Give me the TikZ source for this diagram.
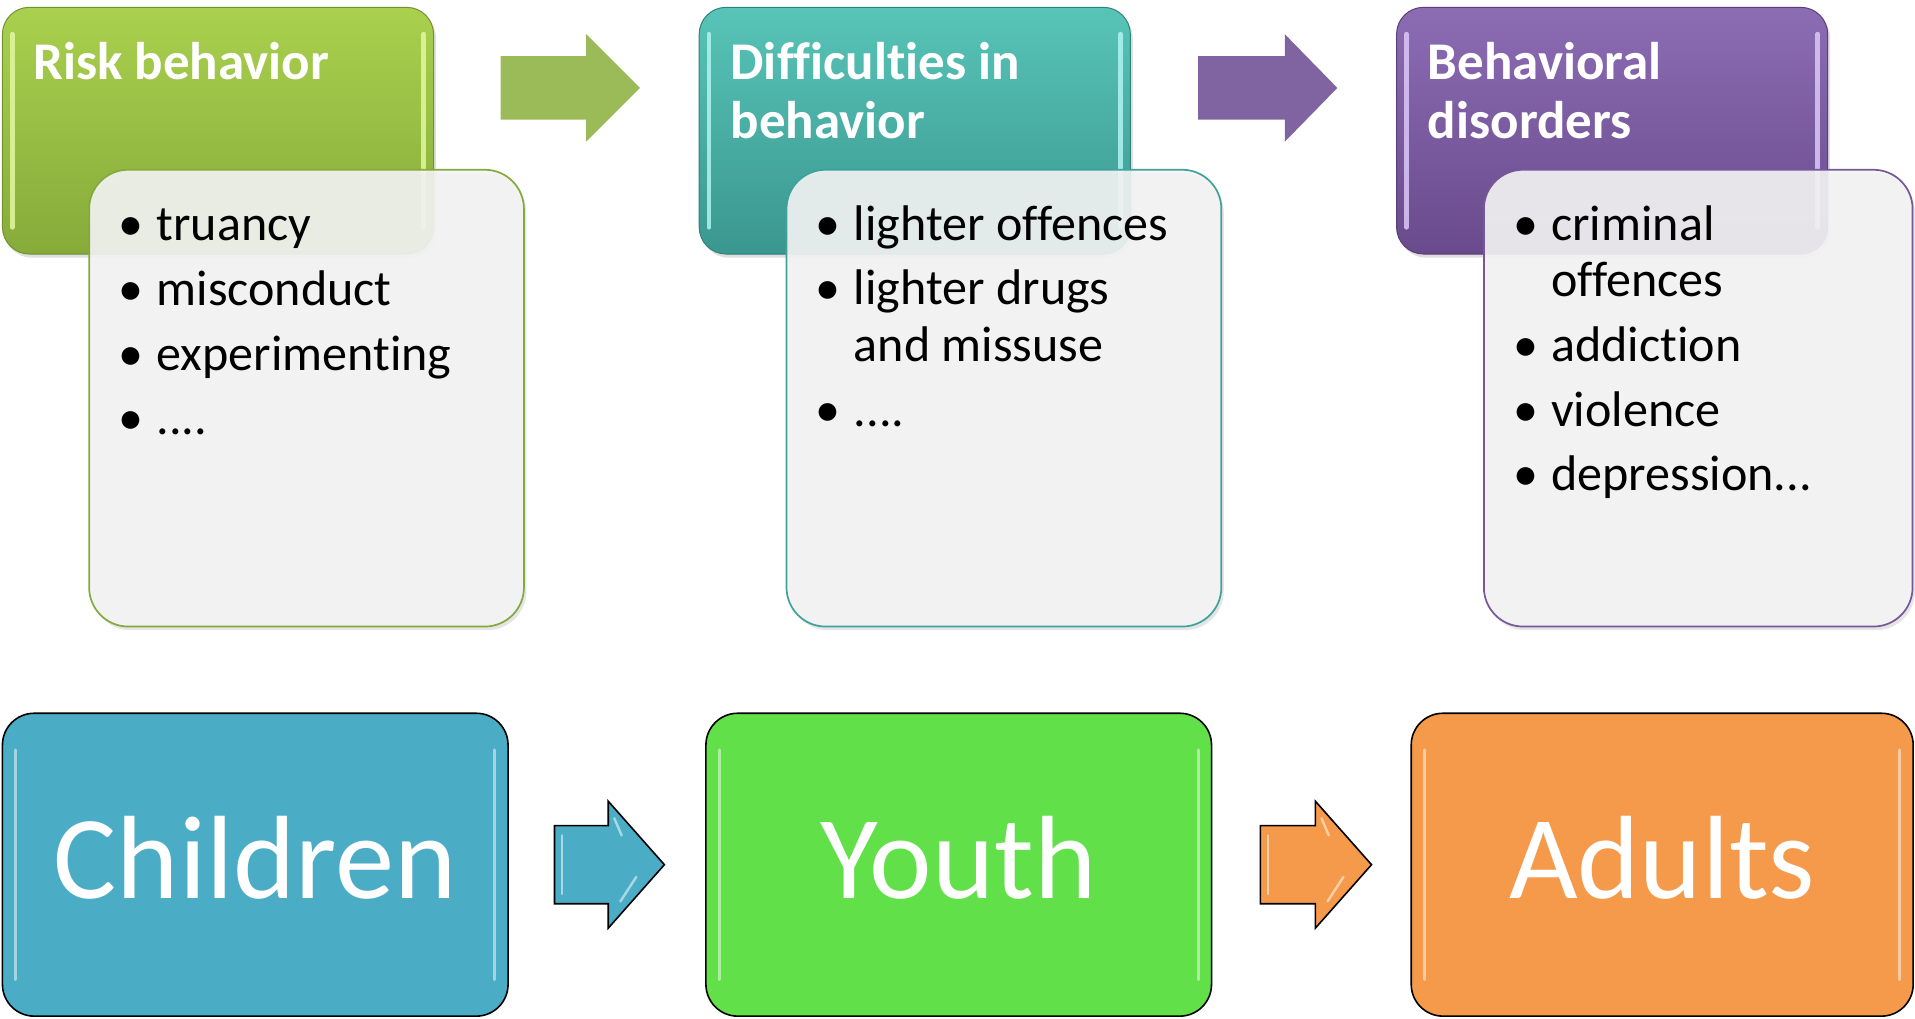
\documentclass[tikz,border=0pt]{standalone}
\usepackage{fontspec}
\setmainfont{Carlito}[Ligatures=NoCommon]
\usetikzlibrary{shadows,calc}
\definecolor{gTop}{HTML}{AAD04E}
\definecolor{gBot}{HTML}{86AB3A}
\definecolor{tTop}{HTML}{58C4B8}
\definecolor{tBot}{HTML}{3A9790}
\definecolor{pTop}{HTML}{8C6DB4}
\definecolor{pBot}{HTML}{694A8C}
\definecolor{gHi}{HTML}{E2F8A0}
\definecolor{tHi}{HTML}{B0F4F0}
\definecolor{pHi}{HTML}{DCC8F8}
\definecolor{arrG}{HTML}{9BBB59}
\definecolor{arrP}{HTML}{8064A2}
\definecolor{boxgray}{HTML}{F4F4F4}
\definecolor{bordG}{HTML}{82AA3C}
\definecolor{bordT}{HTML}{40A29A}
\definecolor{bordP}{HTML}{745898}
\definecolor{cBlue}{HTML}{4BACC6}
\definecolor{cGreen}{HTML}{62E04A}
\definecolor{cOrange}{HTML}{F59A4A}
\newcommand\bul{\llap{\makebox[42pt][c]{•}}}
\begin{document}
\begin{tikzpicture}[x=1pt,y=-1pt,
 hdr/.style={rounded corners=22pt, inner sep=0pt, outer sep=0pt, minimum width=353pt, minimum height=202pt,
   line width=0.8pt,
   drop shadow={opacity=0.25,shadow xshift=2pt,shadow yshift=-3pt}},
 listbox/.style={rounded corners=32pt, inner sep=0pt, outer sep=0pt, minimum width=356pt, minimum height=374pt,
   fill=boxgray, fill opacity=0.9, line width=1.4pt,
   drop shadow={opacity=0.2,shadow xshift=2pt,shadow yshift=-3pt}},
 hdrtext/.style={anchor=base west, inner sep=0pt, text=white, font=\fontsize{43.4}{48}\selectfont\bfseries},
 listitem/.style={anchor=base west, inner sep=0pt, text=black, font=\fontsize{41}{47}\selectfont},
 bigbox/.style={rounded corners=26pt, draw=black, line width=1.3pt, inner sep=0pt, outer sep=0pt,
   minimum width=414pt, minimum height=248pt},
 bigtext/.style={anchor=base, inner sep=0pt, text=white, font=\fontsize{97}{110}\selectfont},
 hl/.style={line width=2.5pt, line cap=round, opacity=0.75},
 hhl/.style={line width=4pt, line cap=round, opacity=0.85},
 barrow/.style={draw=black, line width=1.3pt, line join=miter}
]
\useasboundingbox (0,0) rectangle (1568,833.6);
\fill[white] (0,0) rectangle (1568,833.6);

% ---------- top row ----------
\node[hdr, top color=gTop, bottom color=gBot, draw=gBot!85!black] (gh) at (178.5,107) {};
\node[hdr, top color=tTop, bottom color=tBot, draw=tBot!85!black] (th) at (749,107) {};
\node[hdr, top color=pTop, bottom color=pBot, draw=pBot!85!black] (ph) at (1320,107) {};
\foreach \n/\c in {gh/gHi, th/tHi, ph/pHi}{
  \draw[hhl, \c] ($(\n.north west)+(8,22)$) -- ($(\n.south west)+(8,-22)$);
  \draw[hhl, \c] ($(\n.north east)+(-8,22)$) -- ($(\n.south east)+(-8,-22)$);
}

\node[hdrtext] (ght) at (27,65) {Risk behavior};
\node[hdrtext] (tht1) at (598,65) {Difficulties in};
\node[hdrtext] (tht2) at (598,113.5) {behavior};
\node[hdrtext] (pht1) at (1169,65) {Behavioral};
\node[hdrtext] (pht2) at (1169,113.5) {disorders};

\node[listbox, draw=bordG] (w1) at (251,326) {};
\node[listbox, draw=bordT] (w2) at (822,326) {};
\node[listbox, draw=bordP, minimum width=351pt] (w3) at (1390.5,326) {};

% arrows between the top boxes
\fill[arrG] (410,46) -- (480,46) -- (480,28) -- (524,72) -- (480,116) -- (480,98) -- (410,98) -- cycle;
\fill[arrP] (981,46) -- (1052,46) -- (1052,28) -- (1095,72) -- (1052,116) -- (1052,98) -- (981,98) -- cycle;

% list texts
\node[listitem] (a1) at (128,197) {\bul truancy};
\node[listitem] (a2) at (128,250) {\bul misconduct};
\node[listitem] (a3) at (128,303) {\bul experimenting};
\node[listitem] (a4) at (128,356) {\bul ....};

\node[listitem] (b1) at (699,197) {\bul lighter offences};
\node[listitem] (b2) at (699,249) {\bul lighter drugs};
\node[listitem] (b2b) at (699,296) {and missuse};
\node[listitem] (b3) at (699,349) {\bul ....};

\node[listitem] (c1) at (1270,197) {\bul criminal};
\node[listitem] (c1b) at (1270,243) {offences};
\node[listitem] (c2) at (1270,296) {\bul addiction};
\node[listitem] (c3) at (1270,349) {\bul violence};
\node[listitem] (c4) at (1270,402) {\bul depression...};

% ---------- bottom row ----------
\node[bigbox, fill=cBlue] (kid) at (209,708) {};
\node[bigbox, fill=cGreen] (you) at (785,708) {};
\node[bigbox, fill=cOrange, minimum width=411pt] (adu) at (1361,708) {};
\foreach \n/\c in {kid/cBlue, you/cGreen, adu/cOrange}{
  \draw[hl, \c!35!white] ($(\n.north west)+(11,30)$) -- ($(\n.south west)+(11,-30)$);
  \draw[hl, \c!35!white] ($(\n.north east)+(-11,30)$) -- ($(\n.south east)+(-11,-30)$);
}
\node[bigtext] (kidt) at (209,736) {Children};
\node[bigtext] (yout) at (785,736) {Youth};
\node[bigtext] (adut) at (1361,736) {Adults};

% block arrows between the bottom boxes
\filldraw[barrow, fill=cBlue] (454,676) -- (498,676) -- (498,656) -- (544,708) -- (498,760) -- (498,740) -- (454,740) -- cycle;
\draw[hl, cBlue!30!white, line width=2pt] (460,684) -- (460,732);
\draw[hl, cBlue!30!white, line width=2pt] (503,670) -- (509,684);
\draw[hl, cBlue!30!white, line width=2pt] (521,718) -- (508,738);
\filldraw[barrow, fill=cOrange] (1032,676) -- (1077,676) -- (1077,656) -- (1123,708) -- (1077,760) -- (1077,740) -- (1032,740) -- cycle;
\draw[hl, cOrange!30!white, line width=2pt] (1038,684) -- (1038,732);
\draw[hl, cOrange!30!white, line width=2pt] (1082,670) -- (1088,684);
\draw[hl, cOrange!30!white, line width=2pt] (1100,718) -- (1087,738);
\end{tikzpicture}
\end{document}
